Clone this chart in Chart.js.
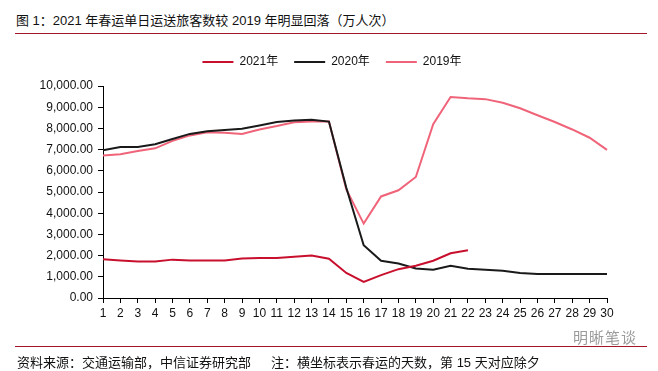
<!DOCTYPE html>
<html>
<head>
<meta charset="utf-8">
<script src="https://cdn.jsdelivr.net/npm/chart.js@4/dist/chart.umd.min.js"></script>
<style>
  html, body { margin: 0; padding: 0; background: #fff; }
  #wrap { position: relative; width: 658px; height: 371px; overflow: hidden;
          font-family: "Liberation Sans", "Noto Sans CJK SC", sans-serif; color: #111; }
  #chartBox { position: absolute; left: 0; top: 0; width: 658px; height: 371px; }
  .title { position: absolute; left: 16px; top: 10px; font-size: 13px; }
  .rule { position: absolute; left: 15px; width: 632px; height: 1px; background: #a3162b; }
  .source { position: absolute; left: 17px; top: 352px; font-size: 13px; white-space: pre; }
  .source span.note { margin-left: 20px; }
  .mark { position: absolute; left: 573px; top: 326px; font-size: 15px; color: #9a9a9a; letter-spacing: 1px; }
</style>
</head>
<body>
<div id="wrap">
  <div class="title">图 1：2021 年春运单日运送旅客数较 2019 年明显回落（万人次）</div>
  <div class="rule" style="top:33px"></div>
  <div id="chartBox"><canvas id="lineChart" width="658" height="371"></canvas></div>
  <div class="mark">明晰笔谈</div>
  <div class="rule" style="top:346px"></div>
  <div class="source"><span>资料来源：交通运输部，中信证券研究部</span><span class="note">注：横坐标表示春运的天数，第 15 天对应除夕</span></div>
</div>
<script>
// Data (万人次)
const days = ['1','2','3','4','5','6','7','8','9','10','11','12','13','14','15',
              '16','17','18','19','20','21','22','23','24','25','26','27','28','29','30'];
const y2021 = [1830, 1770, 1720, 1720, 1810, 1770, 1770, 1770, 1860, 1890, 1890, 1940, 2000, 1850, 1180,
               760, 1080, 1360, 1520, 1760, 2110, 2250];
const y2020 = [6970, 7120, 7120, 7250, 7500, 7740, 7870, 7930, 7980, 8140, 8300, 8370, 8410, 8320, 5200,
               2490, 1760, 1630, 1390, 1330, 1520, 1380, 1330, 1280, 1180, 1130, 1130, 1130, 1130, 1130];
const y2019 = [6720, 6780, 6930, 7060, 7410, 7670, 7820, 7800, 7740, 7950, 8110, 8290, 8330, 8330, 5120,
               3510, 4790, 5080, 5710, 8200, 9480, 9420, 9380, 9210, 8950, 8620, 8300, 7950, 7560, 6990];

const seriesNames = ['2021年', '2020年', '2019年'];
const seriesColors = ['#c8102e', '#1a1a1a', '#f0647a'];

const baseFont = { family: '"Liberation Sans", "Noto Sans CJK SC", sans-serif', size: 12 };

// Give the legend some extra room below and centre it on the whole canvas
const legendTweak = {
    id: 'legendTweak',
    beforeInit(chart) {
        const fit = chart.legend.fit;
        chart.legend.fit = function () {
            fit.bind(chart.legend)();
            this.height += 8;
        };
    },
    afterLayout(chart) {
        chart.legend.left = 0;
        chart.legend.right = chart.width + 6;
        chart.legend.width = chart.width + 6;
    }
};

function makeDataset(i, values) {
    return {
        label: seriesNames[i],
        data: values,
        borderColor: seriesColors[i],
        backgroundColor: seriesColors[i],
        borderWidth: 2,
        pointRadius: 0,
        tension: 0,
        fill: false
    };
}

const ctx = document.getElementById('lineChart').getContext('2d');
const lineChart = new Chart(ctx, {
    type: 'line',
    data: {
        labels: days,
        datasets: [makeDataset(0, y2021), makeDataset(1, y2020), makeDataset(2, y2019)]
    },
    options: {
        responsive: false,
        animation: false,
        layout: { padding: { top: 40, left: 0, right: 51, bottom: 0 } },
        plugins: {
            legend: {
                position: 'top',
                labels: {
                    usePointStyle: true,
                    pointStyle: 'line',
                    pointStyleWidth: 31,
                    boxHeight: 12,
                    padding: 16,
                    color: '#111',
                    font: baseFont
                }
            },
            tooltip: { enabled: false }
        },
        scales: {
            x: {
                offset: false,
                grid: { drawOnChartArea: false, color: '#000', tickLength: 5, tickColor: '#000' },
                border: { color: '#000', width: 1 },
                ticks: { color: '#111', font: baseFont, padding: 3, maxRotation: 0, autoSkip: false },
                afterFit(scale) { scale.height = 73; }
            },
            y: {
                min: 0,
                max: 10000,
                grid: { drawOnChartArea: false, color: '#000', tickLength: 5, tickColor: '#000' },
                border: { color: '#000', width: 1 },
                ticks: {
                    stepSize: 1000,
                    color: '#111',
                    font: baseFont,
                    padding: 5,
                    callback: v => v.toLocaleString('en-US', { minimumFractionDigits: 2, maximumFractionDigits: 2 })
                },
                afterFit(scale) { scale.width = 103; }
            }
        }
    },
    plugins: [legendTweak]
});
</script>
</body>
</html>
